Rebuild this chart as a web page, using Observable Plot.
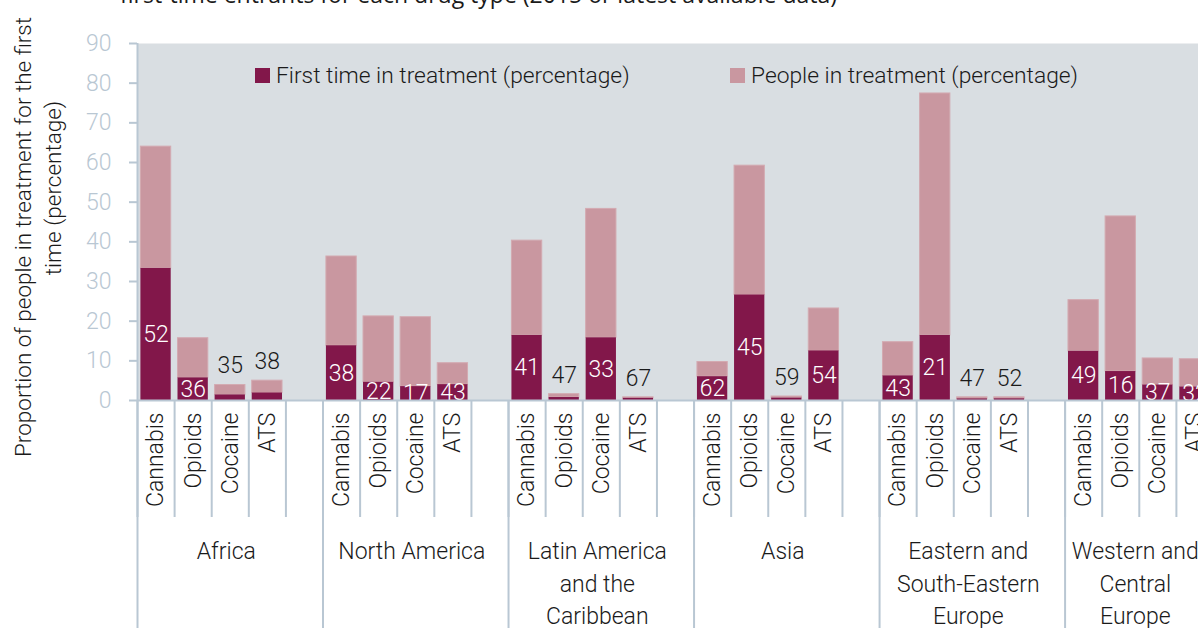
<!DOCTYPE html>
<html>
<head>
<meta charset="utf-8">
<script src="https://cdn.jsdelivr.net/npm/d3@7"></script>
<script src="https://cdn.jsdelivr.net/npm/@observablehq/plot@0.6"></script>
<style>
  html, body { margin: 0; padding: 0; overflow: hidden; background: #fff; }
  #wrap { position: relative; width: 1198px; height: 628px; overflow: hidden; font-family: Roboto, "Liberation Sans", sans-serif; }
  #chart { position: absolute; left: 0; top: 0; width: 1213px; }
  #chart svg { max-width: none !important; }
  #title { position: absolute; left: 120px; top: -22px; font-family: "Open Sans", sans-serif; font-size: 23px; color: #1a1a1a; white-space: nowrap; }
  .yt { position: absolute; width: 520px; transform: translate(-50%, -50%) rotate(-90deg); text-align: center; font-size: 22.5px; line-height: 30px; color: #1a1a1a; font-weight: 300; white-space: nowrap; }
  .leg { position: absolute; top: 62px; font-size: 22.8px; color: #1a1a1a; white-space: nowrap; display: flex; align-items: center; font-weight: 300; }
  .sw { display: inline-block; width: 15px; height: 15px; margin-right: 6px; }
</style>
</head>
<body>
<div id="wrap">
  <div id="chart"></div>
  <div id="title">first-time entrants for each drug type (2015 or latest available data)</div>
  <div class="yt" style="left:23px; top:237px">Proportion of people in treatment for the first</div>
  <div class="yt" style="left:53px; top:188px">time (percentage)</div>
  <div class="leg" style="left:255px"><span class="sw" style="background:#82174a"></span>First time in treatment (percentage)</div>
  <div class="leg" style="left:730px"><span class="sw" style="background:#c997a0"></span>People in treatment (percentage)</div>
</div>
<script>
// ---- data ----
const regions = ["Africa", "North America", "Latin America\nand the\nCaribbean", "Asia", "Eastern and\nSouth-Eastern\nEurope", "Western and\nCentral\nEurope"];
const drugs = ["Cannabis", "Opioids", "Cocaine", "ATS"];
// People in treatment (percentage), per region, per drug
const peopleInTreatment = [
  [64.0, 15.7, 3.9, 5.0],
  [36.3, 21.2, 21.0, 9.4],
  [40.3, 1.6, 48.3, 0.8],
  [9.7, 59.2, 1.0, 23.2],
  [14.7, 77.4, 0.8, 0.8],
  [25.3, 46.4, 10.6, 10.4]
];
// First time in treatment (percentage of all people in treatment)
const firstTime = [
  [33.3, 5.7, 1.4, 1.9],
  [13.8, 4.6, 3.5, 4.0],
  [16.4, 0.75, 15.8, 0.55],
  [6.0, 26.6, 0.6, 12.5],
  [6.2, 16.4, 0.4, 0.42],
  [12.4, 7.3, 3.9, 3.4]
];
// Share of first-time entrants (data labels)
const firstShare = [
  [52, 36, 35, 38],
  [38, 22, 17, 43],
  [41, 47, 33, 67],
  [62, 45, 59, 54],
  [43, 21, 47, 52],
  [49, 16, 37, 32]
];
const yTicks = [0, 10, 20, 30, 40, 50, 60, 70, 80, 90];

// ---- build rows: every region gets one slot per drug plus a blank gap slot (except the last) ----
const regionSlots = regions.map((r, i) => drugs.length + (i < regions.length - 1 ? 1 : 0));
const regionStart = regionSlots.map((n, i) => d3.sum(regionSlots.slice(0, i)));
const nSlots = d3.sum(regionSlots);
const rows = [];
regions.forEach((r, ri) => drugs.forEach((d, di) => {
  rows.push({region: r, drug: d, drugIndex: di, slot: regionStart[ri] + di,
    total: peopleInTreatment[ri][di], first: firstTime[ri][di], share: firstShare[ri][di]});
}));
const drugTicks = rows.map(d => d.slot + 0.5);
const drugByTick = new Map(rows.map(d => [d.slot + 0.5, d.drug]));

const dark = "#82174a", light = "#c997a0", bg = "#d9dee2", axisCol = "#b9c7d3", ink = "#1a1a1a";
const font = "Roboto, 'Liberation Sans', sans-serif";
const fs = 23;

const chart = Plot.plot({
  width: 1213, height: 628,
  marginLeft: 137, marginRight: 0, marginTop: 43, marginBottom: 228,
  x: {domain: [0, nSlots], axis: null},
  y: {domain: [0, 90], axis: null},
  style: {fontFamily: font, fontSize: fs + "px", background: "transparent", fontWeight: 300, maxWidth: "none"},
  marks: [
    Plot.frame({fill: bg, stroke: null}),
    Plot.rectY(rows, {x1: "slot", x2: d => d.slot + 1, y1: "first", y2: "total", fill: light, stroke: "#d3aab1", strokeWidth: 1, insetLeft: 3.4, insetRight: 3.4}),
    Plot.rectY(rows, {x1: "slot", x2: d => d.slot + 1, y1: 0, y2: "first", fill: dark, insetLeft: 3.4, insetRight: 3.4}),
    Plot.text(rows.filter(d => d.first >= 2.5), {x: d => d.slot + 0.5, y: d => d.first / 2, text: "share", fill: "#fff", fontSize: fs, clip: true}),
    Plot.text(rows.filter(d => d.first < 2.5), {x: d => d.slot + 0.5, y: "total", dy: -19, text: "share", fill: ink, fontSize: fs}),
    Plot.ruleX([0], {stroke: axisCol, strokeWidth: 2}),
    Plot.ruleY([0], {stroke: axisCol, strokeWidth: 2}),
    Plot.axisY({ticks: yTicks, tickSize: 8, tickPadding: 18, color: axisCol, fontSize: fs, label: null, strokeWidth: 2}),
    Plot.axisX({ticks: d3.range(0, nSlots + 1), tickSize: 117, tickFormat: () => "", stroke: axisCol, strokeWidth: 2, label: null}),
    Plot.axisX({ticks: [...regionStart, nSlots], tickSize: 228, tickFormat: () => "", stroke: axisCol, strokeWidth: 2, label: null}),
    Plot.axisX({ticks: drugTicks, tickFormat: v => drugByTick.get(v), tickRotate: -90, tickSize: 0, tickPadding: 12, fill: ink, fontSize: fs, label: null}),
    Plot.text(regions, {x: (d, i) => regionStart[i] + regionSlots[i] / 2, text: d => d, frameAnchor: "bottom", lineAnchor: "top", dy: 136, dx: -4, lineHeight: 1.4, fill: ink, fontSize: fs})
  ]
});
document.getElementById("chart").appendChild(chart);
</script>
</body>
</html>
